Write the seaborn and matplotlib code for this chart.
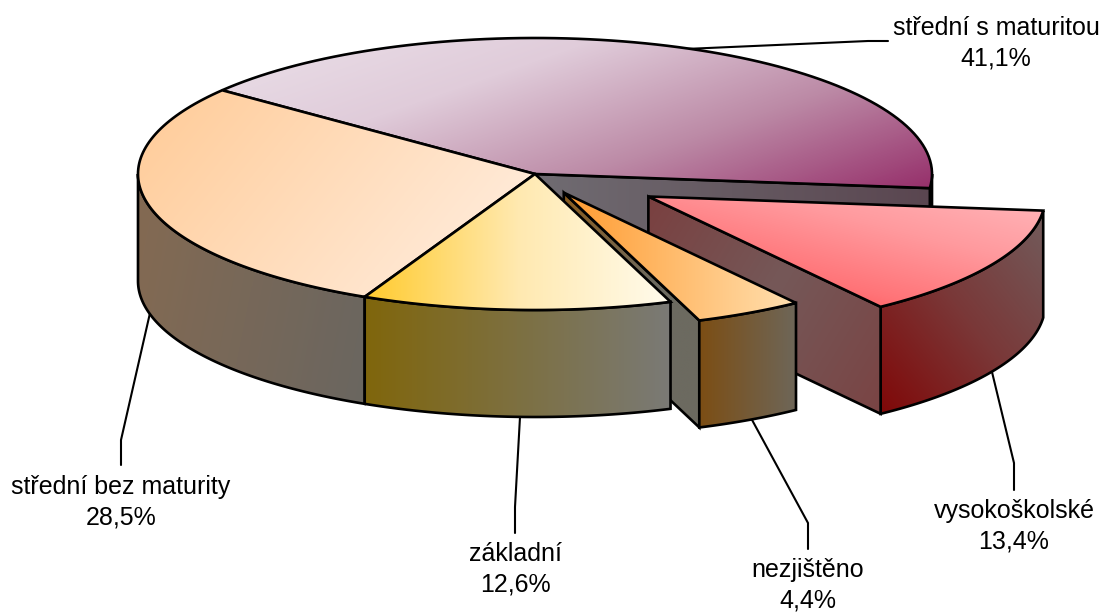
import numpy as np
import matplotlib
matplotlib.use("Agg")
import matplotlib.pyplot as plt
from matplotlib.path import Path
from matplotlib.patches import PathPatch
import seaborn as sns

# ---- data ----
categories = ["střední s maturitou", "vysokoškolské", "nezjištěno", "základní", "střední bez maturity"]
shares = [41.1, 13.4, 4.4, 12.6, 28.5]
explode = [0.0, 0.33, 0.155, 0.0, 0.0]

top_colors = [["#EBE0E9", "#E0CCDA", "#BC8AA6", "#96306B"],
              ["#FFB6BA", "#FF9A9E", "#FF7478", "#FF3C3C"],
              ["#FF9B30", "#FFE0B0"],
              ["#FFCB2E", "#FFE9B0", "#FFFBEC"],
              ["#FFCB97", "#FFF0E4"]]
side_colors = [["#5A4650", "#5A4650"],
               ["#800808", "#7A3838", "#725C5C"],
               ["#7C4E14", "#6E6658"],
               ["#80660C", "#7A7A76"],
               ["#846A52", "#6A6660"]]
inner_colors = [["#706C72", "#5A4650"],
                ["#7A4040", "#755858", "#7A4444"],
                ["#8A5C1E", "#6C6A60", "#6C6A60"],
                None, None]
top_dirs = [(0.35, 1), (-0.25, 1), (1, 0), (1, 0), (1, 0.8)]
side_dirs = [(1, 0), (1, -0.8), (1, 0), (1, 0), (1, 0.2)]
inner_dirs = [(1, 0), (1, 0.6), (1, 1), None, None]

leaders = [[(685, 49), (868, 41), (888, 41)],
           [(992, 372), (1014, 463), (1014, 490)],
           [(751, 418), (808, 523), (808, 549)],
           [(520, 417), (515, 507), (515, 533)],
           [(150, 313), (121, 440), (121, 465)]]
label_pos = [(996, 43), (1014, 526), (808, 585), (515, 569), (121, 502)]

# ---- geometry ----
CX, CY, RX, RY, DEPTH = 535.0, 174.0, 397.0, 136.0, 107.0
START = 142.0

sns.set_theme(style="white")
plt.rcParams["font.family"] = ["Liberation Sans", "DejaVu Sans"]

fig = plt.figure(figsize=(11.05, 6.12), dpi=100, facecolor="white")
ax = fig.add_axes([0, 0, 1, 1])
ax.set_axis_off()

z = [2]


def shape(points, colors, direction):
    pts = np.asarray(points, dtype=float)
    path = Path(np.vstack([pts, pts[0]]), closed=True)
    z[0] += 1
    outline = PathPatch(path, fc="none", ec="black", lw=1.9, joinstyle="miter", zorder=z[0] + 0.5)
    ax.add_patch(outline)
    x0, y0 = pts.min(axis=0)
    x1, y1 = pts.max(axis=0)
    nx, ny = max(int(x1 - x0), 2), max(int(y1 - y0), 2)
    xx, yy = np.meshgrid(np.linspace(x0, x1, nx), np.linspace(y0, y1, ny))
    dx, dy = direction
    v = (xx * dx + yy * dy)
    v = (v - v.min()) / (v.max() - v.min())
    cmap = sns.blend_palette(colors, as_cmap=True)
    im = ax.imshow(v, cmap=cmap, vmin=0, vmax=1, extent=(x0, x1, y1, y0), origin="upper",
                   aspect="auto", interpolation="bilinear", zorder=z[0])
    im.set_clip_path(PathPatch(path, transform=ax.transData))
    z[0] += 1


def arc(cx, cy, a0, a1, n=90):
    t = np.radians(np.linspace(a0, a1, n))
    return np.column_stack([cx + RX * np.cos(t), cy - RY * np.sin(t)])


def down(pts):
    return np.asarray(pts) + np.array([0, DEPTH])


# angles from the shares, clockwise from START
edges = START - np.cumsum([0] + shares) / sum(shares) * 360.0
geo = []
for i in range(len(shares)):
    a0, a1 = edges[i], edges[i + 1]
    mid = np.radians((a0 + a1) / 2)
    cx = CX + explode[i] * RX * np.cos(mid)
    cy = CY - explode[i] * RY * np.sin(mid)
    geo.append((a0, a1, cx, cy))


def draw_inner(i):
    a0, a1, cx, cy = geo[i]
    end = arc(cx, cy, a1, a1, 1)[0]
    apex = np.array([cx, cy])
    shape([apex, end, end + [0, DEPTH], apex + [0, DEPTH]], inner_colors[i], inner_dirs[i])


def draw_side(i, lo, hi):
    _, _, cx, cy = geo[i]
    rim = arc(cx, cy, lo, hi)
    shape(np.vstack([rim, down(rim)[::-1]]), side_colors[i], side_dirs[i])


def draw_top(i):
    a0, a1, cx, cy = geo[i]
    shape(np.vstack([[cx, cy], arc(cx, cy, a0, a1)]), top_colors[i], top_dirs[i])


# back to front
draw_side(0, 0, edges[1])
draw_inner(0)
draw_top(0)

draw_side(1, edges[1], edges[2])
draw_inner(1)
draw_top(1)

draw_side(4, 180, 360 + edges[4])
draw_top(4)

draw_inner(2)
draw_side(3, edges[3], edges[4])
draw_top(3)

draw_side(2, edges[2], edges[3])
draw_top(2)

# leader lines and labels
for i, name in enumerate(categories):
    xs, ys = zip(*leaders[i])
    ax.plot(xs, ys, color="black", lw=1.5, zorder=1, solid_joinstyle="miter")
    txt = f"{name}\n{shares[i]:.1f}%".replace(".", ",")
    ax.text(*label_pos[i], txt, ha="center", va="center", fontsize=18, color="black",
            linespacing=1.35, zorder=200)

ax.set_xlim(0, 1105)
ax.set_ylim(612, 0)
fig.savefig("out.png", dpi=100, facecolor="white")
